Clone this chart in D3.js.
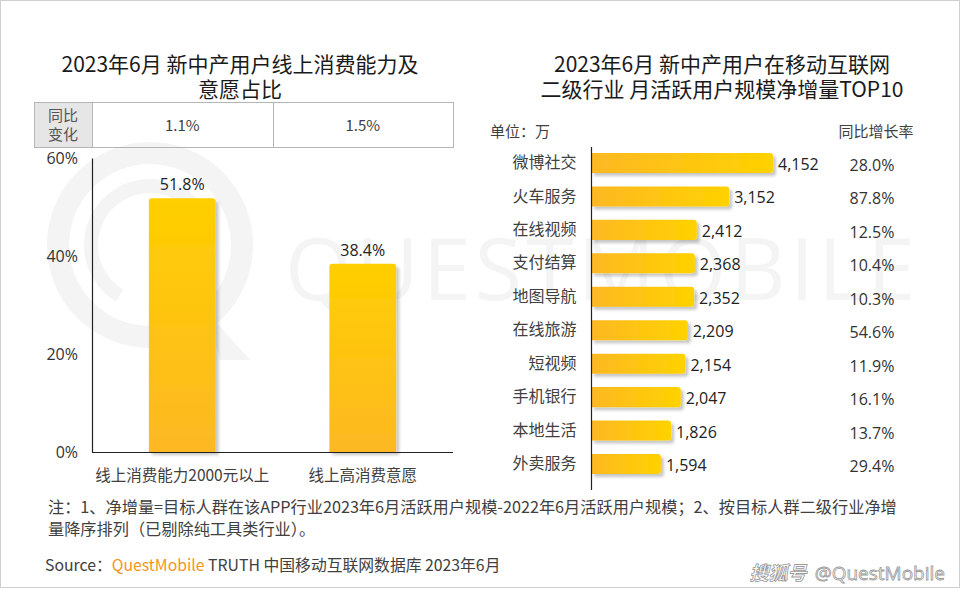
<!DOCTYPE html>
<html><head><meta charset="utf-8">
<script src="https://cdn.jsdelivr.net/npm/d3@7"></script>
<style>
html,body{margin:0;padding:0;background:#fff;}
svg{display:block;font-family:"Microsoft YaHei","Noto Sans CJK SC","Noto Sans",sans-serif;}
</style></head><body>
<svg id="c" width="960" height="590"></svg>
<script>
// ---------- data ----------
const leftTitle = ["2023年6月 新中产用户线上消费能力及", "意愿占比"];
const leftCategories = ["线上消费能力2000元以上", "线上高消费意愿"];
const leftValues = [51.8, 38.4];
const leftYoY = ["1.1%", "1.5%"];
const leftTicks = [0, 20, 40, 60];

const rightTitle = ["2023年6月 新中产用户在移动互联网", "二级行业 月活跃用户规模净增量TOP10"];
const rightCategories = ["微博社交","火车服务","在线视频","支付结算","地图导航","在线旅游","短视频","手机银行","本地生活","外卖服务"];
const rightValues = [4152, 3152, 2412, 2368, 2352, 2209, 2154, 2047, 1826, 1594];
const rightYoY = ["28.0%","87.8%","12.5%","10.4%","10.3%","54.6%","11.9%","16.1%","13.7%","29.4%"];

const noteLines = ["注：1、净增量=目标人群在该APP行业2023年6月活跃用户规模-2022年6月活跃用户规模；2、按目标人群二级行业净增",
                   "量降序排列（已剔除纯工具类行业）。"];

// ---------- setup ----------
const svg = d3.select("#c");
const defs = svg.append("defs");
const gv = defs.append("linearGradient").attr("id","gv").attr("x1",0).attr("y1",0).attr("x2",0).attr("y2",1);
gv.append("stop").attr("offset","0%").attr("stop-color","#FFCF00");
gv.append("stop").attr("offset","100%").attr("stop-color","#FDB823");
const gh = defs.append("linearGradient").attr("id","gh").attr("x1",0).attr("y1",0).attr("x2",1).attr("y2",0);
gh.append("stop").attr("offset","0%").attr("stop-color","#FDB823");
gh.append("stop").attr("offset","100%").attr("stop-color","#FFD200");
const sh = defs.append("filter").attr("id","sh").attr("x","-20%").attr("y","-20%").attr("width","150%").attr("height","150%");
sh.append("feDropShadow").attr("dx",3).attr("dy",3).attr("stdDeviation",1.8).attr("flood-color","#000").attr("flood-opacity",0.22);

// border
svg.append("rect").attr("x",0.5).attr("y",0.5).attr("width",959).attr("height",587).attr("fill","#fff").attr("stroke","#cfcfcf");

// watermark
const wm = svg.append("g").attr("fill","none").attr("stroke","#f4f4f4");
wm.append("circle").attr("cx",150).attr("cy",245).attr("r",92).attr("stroke-width",22);
wm.append("path").attr("d",d3.arc()({innerRadius:52,outerRadius:66,startAngle:-2.6,endAngle:0.9})).attr("transform","translate(150,245)").attr("fill","#f4f4f4").attr("stroke","none");
wm.append("path").attr("d","M205,310 L250,360 L220,360 Z").attr("fill","#f4f4f4").attr("stroke","none");
svg.append("text").attr("x",285).attr("y",300).attr("font-size",86).attr("font-weight",400)
  .attr("font-family","'Open Sans','Noto Sans',sans-serif")
  .attr("fill","#f4f4f4").attr("textLength",630).attr("lengthAdjust","spacing").text("QUESTMOBILE");

// ---------- titles ----------
function title(lines, cx){
  lines.forEach((t,i)=>svg.append("text").attr("x",cx).attr("y",72+i*25).attr("text-anchor","middle")
    .attr("font-size",21).attr("font-weight",400).attr("fill","#1a1a1a").text(t));
}
title(leftTitle, 240);
title(rightTitle, 722);

// ---------- left chart ----------
const lx = d3.scaleBand().domain(leftCategories).range([92,453]).paddingInner(0.63).paddingOuter(0.315);
const ly = d3.scaleLinear().domain([0,60]).range([452,158]);

// table
const tb = svg.append("g");
tb.append("rect").attr("x",34.5).attr("y",102.5).attr("width",58).attr("height",45).attr("fill","#e6e6e6").attr("stroke","#b5b5b5");
tb.append("rect").attr("x",92.5).attr("y",102.5).attr("width",361).attr("height",45).attr("fill","none").attr("stroke","#b5b5b5");
tb.append("line").attr("x1",273.5).attr("x2",273.5).attr("y1",102.5).attr("y2",147.5).attr("stroke","#b5b5b5");
tb.append("text").attr("x",63).attr("y",121).attr("text-anchor","middle").attr("font-size",15).attr("fill","#555").text("同比");
tb.append("text").attr("x",63).attr("y",140).attr("text-anchor","middle").attr("font-size",15).attr("fill","#555").text("变化");
tb.selectAll(".yoy").data(leftCategories).enter().append("text")
  .attr("x",d=>lx(d)+lx.bandwidth()/2).attr("y",131).attr("text-anchor","middle")
  .attr("font-size",15).attr("fill","#404040").text((d,i)=>leftYoY[i]);

// y axis
const yAxis = svg.append("g").attr("transform","translate(92,0)")
  .call(d3.axisLeft(ly).tickValues(leftTicks).tickFormat(d=>d+"%").tickSize(0).tickPadding(14));
yAxis.select(".domain").attr("stroke","#222").attr("stroke-width",1.2);
yAxis.selectAll("text").attr("font-size",16).attr("fill","#333").attr("font-family","'Segoe UI','Open Sans','Noto Sans',sans-serif");

// bars
svg.append("g").selectAll("path").data(leftValues).enter().append("path")
  .attr("d",(d,i)=>{
    const x=lx(leftCategories[i]), w=lx.bandwidth(), y=ly(d), b=ly(0), r=3;
    return `M${x},${b} V${y+r} Q${x},${y} ${x+r},${y} H${x+w-r} Q${x+w},${y} ${x+w},${y+r} V${b} Z`;
  })
  .attr("fill","url(#gv)").attr("filter","url(#sh)");
svg.append("line").attr("x1",92).attr("x2",453).attr("y1",452.5).attr("y2",452.5).attr("stroke","#222").attr("stroke-width",1.2);
svg.append("g").selectAll("text").data(leftValues).enter().append("text")
  .attr("x",(d,i)=>lx(leftCategories[i])+lx.bandwidth()/2).attr("y",d=>ly(d)-8)
  .attr("text-anchor","middle").attr("font-size",16).attr("fill","#222")
  .attr("font-family","'Segoe UI','Open Sans','Noto Sans',sans-serif").text(d=>d.toFixed(1)+"%");
svg.append("g").selectAll("text").data(leftCategories).enter().append("text")
  .attr("x",d=>lx(d)+lx.bandwidth()/2).attr("y",481).attr("text-anchor","middle")
  .attr("font-size",15.5).attr("fill","#404040").text(d=>d);

// ---------- right chart ----------
const ry = d3.scaleBand().domain(rightCategories).range([146.3,480.7]).paddingInner(0.4).paddingOuter(0.2);
const rx = d3.scaleLinear().domain([0,5000]).range([591,810.2]);

svg.append("text").attr("x",490).attr("y",137).attr("font-size",15).attr("fill","#404040").text("单位：万");
svg.append("text").attr("x",876).attr("y",137).attr("text-anchor","middle").attr("font-size",15).attr("fill","#404040").text("同比增长率");

svg.append("g").selectAll("path").data(rightValues).enter().append("path")
  .attr("d",(d,i)=>{
    const y=ry(rightCategories[i]), h=ry.bandwidth(), x0=rx(0), x1=rx(d), r=3;
    return `M${x0},${y} H${x1-r} Q${x1},${y} ${x1},${y+r} V${y+h-r} Q${x1},${y+h} ${x1-r},${y+h} H${x0} Z`;
  })
  .attr("fill","url(#gh)").attr("filter","url(#sh)");
const rAxis = svg.append("g").attr("transform","translate(591.5,0)")
  .call(d3.axisLeft(ry).tickSize(0).tickPadding(15));
rAxis.select(".domain").attr("d","M0,147V490").attr("stroke","#222").attr("stroke-width",1.2);
rAxis.selectAll("text").attr("font-size",16).attr("fill","#404040").attr("font-family","'Microsoft YaHei','Noto Sans CJK SC',sans-serif");

svg.append("g").selectAll("text").data(rightValues).enter().append("text")
  .attr("x",d=>rx(d)+5).attr("y",(d,i)=>ry(rightCategories[i])+ry.bandwidth()/2+1)
  .attr("dominant-baseline","central").attr("font-size",16).attr("fill","#222")
  .attr("font-family","'Segoe UI','Open Sans','Noto Sans',sans-serif").text(d=>d3.format(",")(d));
svg.append("g").selectAll("text").data(rightYoY).enter().append("text")
  .attr("x",872).attr("y",(d,i)=>ry(rightCategories[i])+ry.bandwidth()/2+2)
  .attr("text-anchor","middle").attr("dominant-baseline","central").attr("font-size",16).attr("fill","#333")
  .attr("font-family","'Segoe UI','Open Sans','Noto Sans',sans-serif").text(d=>d);

// ---------- notes & source ----------
noteLines.forEach((t,i)=>svg.append("text").attr("x",48).attr("y",513+i*22).attr("font-size",16.2).attr("fill","#404040").text(t));
const src = svg.append("text").attr("x",45).attr("y",571).attr("font-size",15.8).attr("fill","#404040");
src.append("tspan").text("Source：");
src.append("tspan").attr("fill","#F7941D").text("QuestMobile");
src.append("tspan").text(" TRUTH 中国移动互联网数据库 2023年6月");

const wm2 = svg.append("text").attr("x",945).attr("y",580).attr("text-anchor","end").attr("font-size",19)
  .attr("fill","#fff").attr("stroke","#9a9a9a").attr("stroke-width",0.8);
wm2.append("tspan").attr("font-weight",700).attr("font-style","italic").text("搜狐号");
wm2.append("tspan").attr("dx",8).attr("font-family","'Open Sans','Noto Sans',sans-serif").text("@QuestMobile");
</script>
</body></html>
